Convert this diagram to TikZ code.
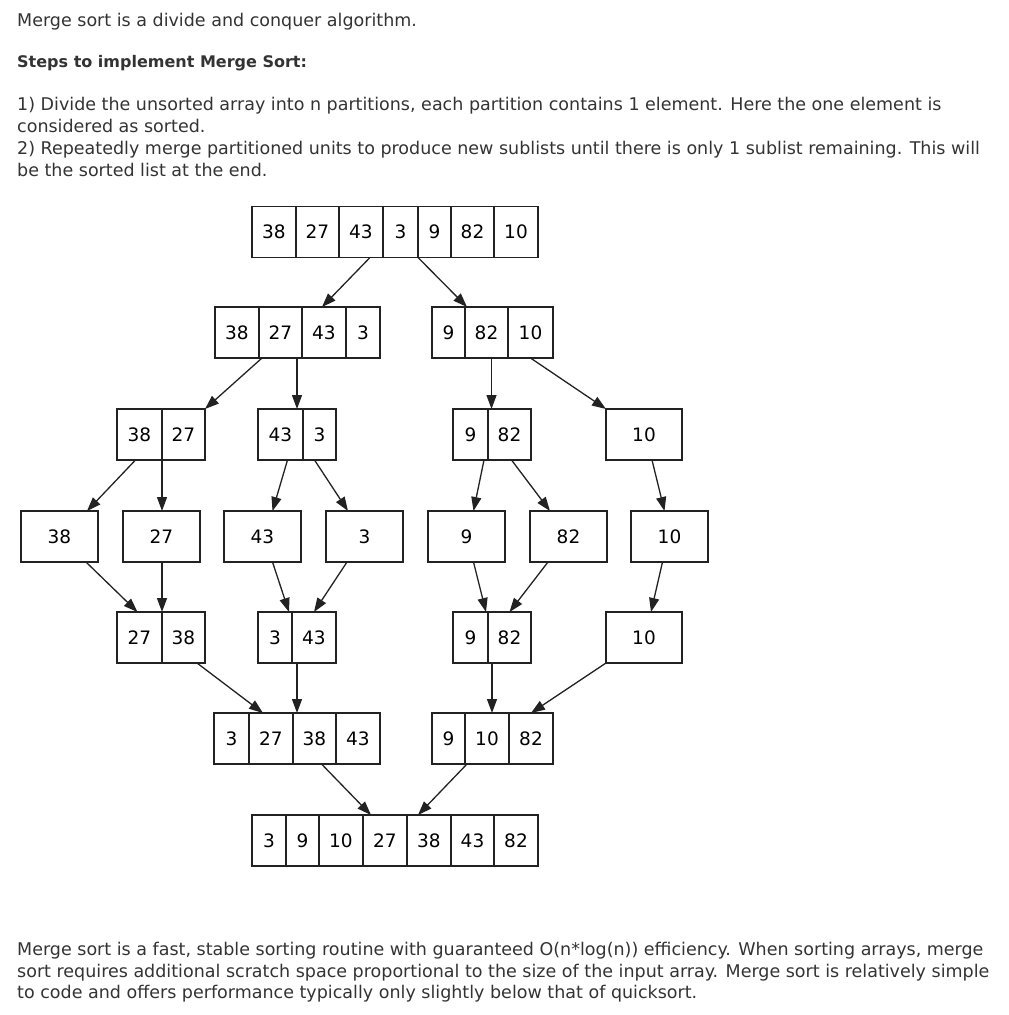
\documentclass[tikz,border=0pt]{standalone}
\usepackage{fontspec}
\setmainfont{DejaVu Sans}
\newfontfamily\cellfont{DejaVu Sans}
\usetikzlibrary{positioning}
\usetikzlibrary{arrows.meta}
\definecolor{textgray}{HTML}{333333}
\definecolor{linegray}{HTML}{222222}

\begin{document}
\begin{tikzpicture}
	[x=1pt,y=-1pt,
	 cell/.style={draw=linegray,rectangle,line width=1.3pt,minimum height=51pt,inner sep=0pt,outer sep=0pt,font=\cellfont\fontsize{18.5}{19}\selectfont},
	 link/.style={draw=linegray,line width=1.3pt,-{Triangle[length=14pt,width=10pt]}},
	 para/.style={anchor=base west,inner sep=0pt,text=textgray,font=\fontsize{17.5}{20}\selectfont}]

	\useasboundingbox (0,0) rectangle (1009,1015);

	% text above
	\node[para] (intro) at (17,26) {Merge sort is a divide and conquer algorithm.};
	\node[para,font=\fontsize{16}{20}\selectfont\bfseries] (steps) at (17,67) {Steps to implement Merge Sort:};
	\node[para] (stepA) at (17,110) {1) Divide the unsorted array into n partitions, each partition contains 1 element. Here the one element is};
	\node[para] (stepAb) at (17,132) {considered as sorted.};
	\node[para] (stepB) at (17,154) {2) Repeatedly merge partitioned units to produce new sublists until there is only 1 sublist remaining. This will};
	\node[para] (stepBb) at (17,176) {be the sorted list at the end.};

	% input array
	\node[cell,minimum width=44,anchor=west] (a1) at (252,232) {38};
	\node[cell,minimum width=43,right=0pt of a1] (a2) {27};
	\node[cell,minimum width=44,right=0pt of a2] (a3) {43};
	\node[cell,minimum width=35,right=0pt of a3] (a4) {3};
	\node[cell,minimum width=33,right=0pt of a4] (a5) {9};
	\node[cell,minimum width=43,right=0pt of a5] (a6) {82};
	\node[cell,minimum width=44,right=0pt of a6] (a7) {10};

	% first split
	\node[cell,minimum width=44,anchor=west] (b1) at (215,332.5) {38};
	\node[cell,minimum width=43,right=0pt of b1] (b2) {27};
	\node[cell,minimum width=44,right=0pt of b2] (b3) {43};
	\node[cell,minimum width=34,right=0pt of b3] (b4) {3};
	\node[cell,minimum width=33,anchor=west] (c1) at (432,332.5) {9};
	\node[cell,minimum width=43,right=0pt of c1] (c2) {82};
	\node[cell,minimum width=45,right=0pt of c2] (c3) {10};

	% second split
	\node[cell,minimum width=45,anchor=west] (d1) at (117,434.5) {38};
	\node[cell,minimum width=43,right=0pt of d1] (d2) {27};
	\node[cell,minimum width=45,anchor=west] (e1) at (258,434.5) {43};
	\node[cell,minimum width=33,right=0pt of e1] (e2) {3};
	\node[cell,minimum width=35,anchor=west] (f1) at (453,434.5) {9};
	\node[cell,minimum width=43,right=0pt of f1] (f2) {82};
	\node[cell,minimum width=76,anchor=west] (g1) at (606,434.5) {10};

	% single elements
	\node[cell,minimum width=77,anchor=west] (h1) at (21,536.5) {38};
	\node[cell,minimum width=77,anchor=west] (i1) at (123,536.5) {27};
	\node[cell,minimum width=77,anchor=west] (j1) at (224,536.5) {43};
	\node[cell,minimum width=77,anchor=west] (k1) at (326,536.5) {3};
	\node[cell,minimum width=77,anchor=west] (l1) at (428,536.5) {9};
	\node[cell,minimum width=77,anchor=west] (m1) at (530,536.5) {82};
	\node[cell,minimum width=77,anchor=west] (n1) at (631,536.5) {10};

	% first merge
	\node[cell,minimum width=45,anchor=west] (o1) at (117,637.5) {27};
	\node[cell,minimum width=43,right=0pt of o1] (o2) {38};
	\node[cell,minimum width=34,anchor=west] (p1) at (258,637.5) {3};
	\node[cell,minimum width=44,right=0pt of p1] (p2) {43};
	\node[cell,minimum width=35,anchor=west] (q1) at (453,637.5) {9};
	\node[cell,minimum width=43,right=0pt of q1] (q2) {82};
	\node[cell,minimum width=76,anchor=west] (r1) at (606,637.5) {10};

	% second merge
	\node[cell,minimum width=35,anchor=west] (s1) at (214,738.5) {3};
	\node[cell,minimum width=44,right=0pt of s1] (s2) {27};
	\node[cell,minimum width=43,right=0pt of s2] (s3) {38};
	\node[cell,minimum width=44,right=0pt of s3] (s4) {43};
	\node[cell,minimum width=33,anchor=west] (t1) at (432,738.5) {9};
	\node[cell,minimum width=44,right=0pt of t1] (t2) {10};
	\node[cell,minimum width=44,right=0pt of t2] (t3) {82};

	% sorted array
	\node[cell,minimum width=34,anchor=west] (u1) at (252,840.5) {3};
	\node[cell,minimum width=33,right=0pt of u1] (u2) {9};
	\node[cell,minimum width=44,right=0pt of u2] (u3) {10};
	\node[cell,minimum width=44,right=0pt of u3] (u4) {27};
	\node[cell,minimum width=44,right=0pt of u4] (u5) {38};
	\node[cell,minimum width=43,right=0pt of u5] (u6) {43};
	\node[cell,minimum width=44,right=0pt of u6] (u7) {82};

	% divide
	\draw[link] ([xshift=9pt]a3.south) -- ([xshift=-2pt]b3.north);
	\draw[link] (a5.south west) -- ([xshift=2pt]c2.north west);
	\draw[link] ([xshift=3pt]b2.south west) -- (d2.north east);
	\draw[link] ([xshift=-5pt]b2.south east) -- ([xshift=-5pt]b2.south east |- e1.north);
	\draw[link] ([xshift=5pt]c2.south) -- ([xshift=5pt]c2.south |- f1.north);
	\draw[link] (c3.south) -- (g1.north west);
	\draw[link] ([xshift=-4pt]d1.south) -- ([xshift=-11pt]h1.north east);
	\draw[link] (d1.south east) -- (d1.south east |- i1.north);
	\draw[link] ([xshift=7pt]e1.south) -- ([xshift=10pt]j1.north);
	\draw[link] ([xshift=-5pt]e2.south) -- ([xshift=22pt]k1.north west);
	\draw[link] ([xshift=-4pt]f1.south east) -- ([xshift=7pt]l1.north);
	\draw[link] ([xshift=2pt]f2.south) -- ([xshift=20pt]m1.north west);
	\draw[link] ([xshift=8pt]g1.south) -- ([xshift=-5pt]n1.north);

	% conquer
	\draw[link] ([xshift=-12pt]h1.south east) -- ([xshift=-2pt]o1.north);
	\draw[link] (o1.north east |- i1.south) -- (o1.north east);
	\draw[link] ([xshift=10pt]j1.south) -- ([xshift=-3pt]p1.north east);
	\draw[link] ([xshift=21pt]k1.south west) -- (p2.north);
	\draw[link] ([xshift=7pt]l1.south) -- ([xshift=-2pt]q1.north east);
	\draw[link] ([xshift=18pt]m1.south west) -- (q2.north);
	\draw[link] ([xshift=-7pt]n1.south) -- ([xshift=7pt]r1.north);
	\draw[link] ([xshift=-8pt]o2.south east) -- ([xshift=-8pt]s2.north);
	\draw[link] ([xshift=5pt]p2.south west) -- ([xshift=5pt]p2.south west |- s3.north);
	\draw[link] ([xshift=4pt]q2.south west) -- ([xshift=4pt]q2.south west |- t1.north);
	\draw[link] (r1.south west) -- (t3.north);
	\draw[link] ([xshift=7pt]s3.south) -- ([xshift=8pt]u4.north west);
	\draw[link] ([xshift=2pt]t2.south west) -- ([xshift=-11pt]u5.north);

	% text below
	\node[para] (closeA) at (17,955) {Merge sort is a fast, stable sorting routine with guaranteed O(n*log(n)) efficiency. When sorting arrays, merge};
	\node[para] (closeB) at (17,977) {sort requires additional scratch space proportional to the size of the input array. Merge sort is relatively simple};
	\node[para] (closeC) at (17,998) {to code and offers performance typically only slightly below that of quicksort.};
\end{tikzpicture}
\end{document}
